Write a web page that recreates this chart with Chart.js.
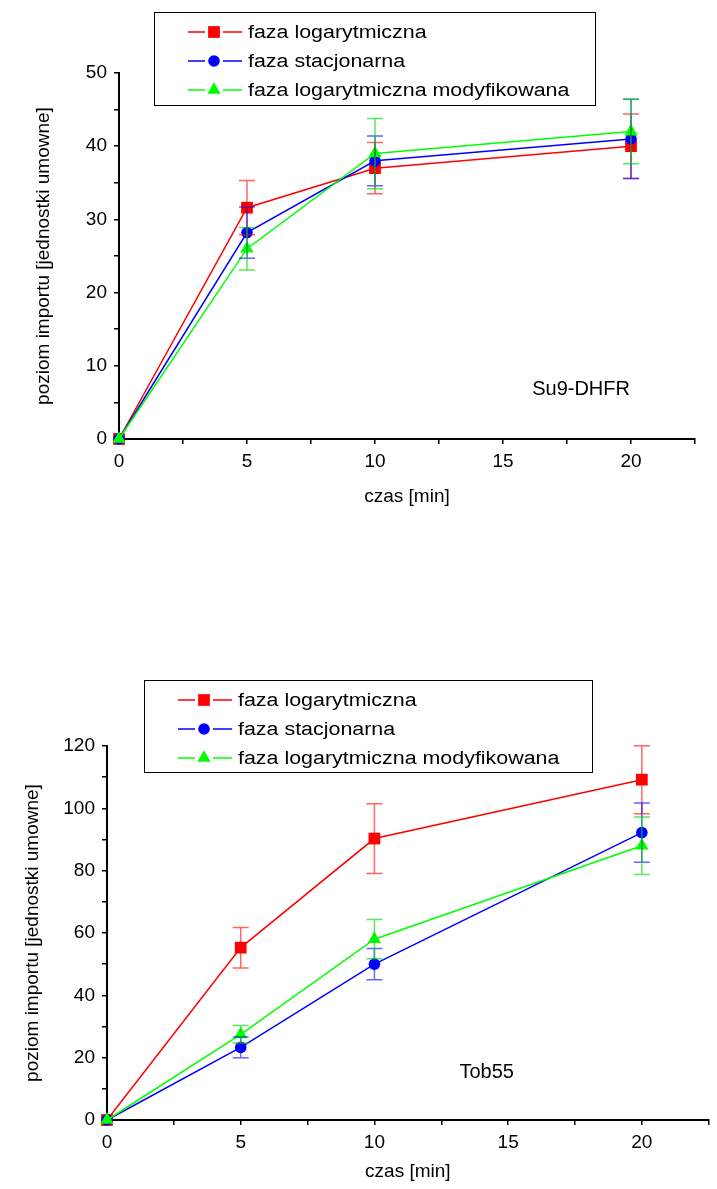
<!DOCTYPE html>
<html><head><meta charset="utf-8">
<script src="https://cdn.jsdelivr.net/npm/chart.js@4"></script>
<style>
html,body{margin:0;padding:0;background:#fff;width:717px;height:1189px;overflow:hidden}
.wrap{position:absolute;left:0;width:717px}
#w1{top:0;height:520px}
#w2{top:600px;height:589px}
canvas{display:block}
</style></head><body>
<div class="wrap" id="w1"><canvas id="c1" width="717" height="520"></canvas></div>
<div class="wrap" id="w2"><canvas id="c2" width="717" height="589"></canvas></div>
<script>
// ---- data ----
const times = [0, 5, 10, 20];
const seriesNames = ['faza logarytmiczna', 'faza stacjonarna', 'faza logarytmiczna modyfikowana'];

// Su9-DHFR
const su9Log      = [0, 31.6, 37, 40];
const su9LogErr   = [0, 3.7, 3.5, 4.4];
const su9Stat     = [0, 28.2, 38, 41];
const su9StatErr  = [0, 3.5, 3.4, 5.4];
const su9Mod      = [0, 26, 39, 42];
const su9ModErr   = [0, 2.9, 4.8, 4.4];

// Tob55
const tobLog      = [0, 55.3, 90.3, 109.2];
const tobLogErr   = [0, 6.5, 11.2, 10.9];
const tobStat     = [0, 23.3, 50, 92.2];
const tobStatErr  = [0, 3.3, 5, 9.5];
const tobMod      = [0, 27.5, 58, 88];
const tobModErr   = [0, 2.8, 6.3, 9.2];

const xTitle = 'czas [min]';
const yTitle = 'poziom importu [jednostki umowne]';
const label1 = 'Su9-DHFR';
const label2 = 'Tob55';

// ---- styles ----
const FONT = 'Liberation Sans, Arial, Helvetica, sans-serif';
const colors = ['#ff0000', '#0000ff', '#00ff00'];
const errColors = ['rgba(255,0,0,0.6)', 'rgba(0,0,255,0.6)', 'rgba(0,220,0,0.65)'];
const styles = ['rect', 'circle', 'triangle'];
const radii = [8.3, 5.8, 7.7];

function drawMarker(ctx, style, x, y, r, color) {
  ctx.fillStyle = color;
  ctx.beginPath();
  if (style === 'rect') {
    const s = Math.SQRT1_2 * r;
    ctx.rect(x - s, y - s, 2 * s, 2 * s);
  } else if (style === 'circle') {
    ctx.arc(x, y, r, 0, Math.PI * 2);
  } else {
    for (let k = 0; k < 3; k++) {
      const a = -Math.PI / 2 + k * 2 * Math.PI / 3;
      const px = x + r * Math.cos(a), py = y + r * Math.sin(a);
      if (k === 0) ctx.moveTo(px, py); else ctx.lineTo(px, py);
    }
    ctx.closePath();
  }
  ctx.fill();
}

const errorBarPlugin = {
  id: 'errBars',
  afterDatasetsDraw(chart) {
    const ctx = chart.ctx;
    const xs = chart.scales.x, ys = chart.scales.y;
    ctx.save();
    chart.data.datasets.forEach((ds, i) => {
      ctx.strokeStyle = errColors[i];
      ctx.lineWidth = 1.5;
      ds.data.forEach((p, j) => {
        const e = ds.errors[j];
        if (!e) return;
        const x = xs.getPixelForValue(p.x);
        const yt = ys.getPixelForValue(p.y + e);
        const yb = ys.getPixelForValue(p.y - e);
        ctx.beginPath();
        ctx.moveTo(x, yt); ctx.lineTo(x, yb);
        ctx.moveTo(x - 8, yt); ctx.lineTo(x + 8, yt);
        ctx.moveTo(x - 8, yb); ctx.lineTo(x + 8, yb);
        ctx.stroke();
      });
    });
    ctx.restore();
  }
};

const boxLegendPlugin = {
  id: 'boxLegend',
  afterDraw(chart, args, o) {
    const ctx = chart.ctx;
    ctx.save();
    ctx.strokeStyle = '#000';
    ctx.lineWidth = 1;
    ctx.strokeRect(o.bx + 0.5, o.by + 0.5, o.bw, o.bh);
    chart.data.datasets.forEach((ds, i) => {
      const y = o.rows[i];
      ctx.strokeStyle = colors[i];
      ctx.lineWidth = 1.3;
      ctx.beginPath();
      ctx.moveTo(o.lx0, y); ctx.lineTo(o.mx - 9, y);
      ctx.moveTo(o.mx + 9, y); ctx.lineTo(o.lx1, y);
      ctx.stroke();
      drawMarker(ctx, styles[i], o.mx, y, radii[i], colors[i]);
      ctx.save();
      ctx.fillStyle = '#000';
      ctx.font = '18px ' + FONT;
      ctx.textBaseline = 'middle';
      ctx.translate(o.tx, y + 1);
      ctx.scale(o.sx, 1);
      ctx.fillText(ds.label, 0, 0);
      ctx.restore();
    });
    ctx.restore();
  }
};

const notePlugin = {
  id: 'note',
  afterDraw(chart, args, o) {
    const ctx = chart.ctx;
    ctx.save();
    ctx.fillStyle = '#000';
    ctx.font = '20px ' + FONT;
    ctx.textAlign = 'center';
    ctx.textBaseline = 'middle';
    ctx.fillText(o.text, chart.scales.x.getPixelForValue(o.x), chart.scales.y.getPixelForValue(o.y));
    ctx.restore();
  }
};

function makeChart(id, cfg) {
  const sets = cfg.series.map((s, i) => ({
    label: seriesNames[i],
    data: times.map((t, j) => ({ x: t, y: s[0][j] })),
    errors: s[1],
    showLine: true,
    borderColor: colors[i],
    backgroundColor: colors[i],
    borderWidth: 1.5,
    pointStyle: styles[i],
    pointRadius: radii[i],
    pointHoverRadius: radii[i],
    pointBorderWidth: 0,
    clip: false,
    order: 3 - i
  }));
  const axisFont = { size: 19, family: FONT };
  return new Chart(document.getElementById(id), {
    type: 'scatter',
    data: { datasets: sets },
    plugins: [errorBarPlugin, boxLegendPlugin, notePlugin],
    options: {
      responsive: false,
      animation: false,
      events: [],
      layout: { padding: cfg.padding },
      plugins: {
        legend: { display: false },
        tooltip: { enabled: false },
        boxLegend: cfg.legend,
        note: cfg.note
      },
      scales: {
        x: {
          type: 'linear', min: 0, max: 22.5,
          ticks: {
            stepSize: 2.5, autoSkip: false, maxRotation: 0, color: '#000', font: axisFont, padding: 6,
            callback: v => (v % 5 === 0 ? String(v) : '')
          },
          grid: { drawOnChartArea: false, drawTicks: true, tickLength: 5, color: '#000', lineWidth: 1.5 },
          border: { display: true, color: '#000', width: 2 },
          title: { display: true, text: xTitle, color: '#000', font: axisFont, padding: { top: 0, bottom: cfg.xTitlePad } },
          afterFit: s => { s.height = cfg.xHeight; }
        },
        y: {
          min: 0, max: cfg.yMax,
          ticks: {
            stepSize: cfg.yStep / 2, autoSkip: false, color: '#000', font: axisFont, padding: 7,
            callback: v => (v % cfg.yStep === 0 ? String(v) : '')
          },
          grid: { drawOnChartArea: false, drawTicks: true, tickLength: 5, color: '#000', lineWidth: 1.5 },
          border: { display: true, color: '#000', width: 2 },
          title: { display: true, text: yTitle, color: '#000', font: axisFont, padding: { top: 0, bottom: 0 } },
          afterFit: s => { s.width = cfg.yWidth; }
        }
      }
    }
  });
}

makeChart('c1', {
  series: [[su9Log, su9LogErr], [su9Stat, su9StatErr], [su9Mod, su9ModErr]],
  yMax: 50, yStep: 10,
  padding: { left: 32, right: 22, top: 73, bottom: 11 },
  yWidth: 87, xHeight: 70, xTitlePad: 1,
  legend: { bx: 154, by: 12, bw: 441, bh: 93, rows: [32, 61, 90], lx0: 188, lx1: 242, mx: 214, tx: 248, sx: 1.19 },
  note: { text: label1, x: 18.05, y: 6.7 }
});

makeChart('c2', {
  series: [[tobLog, tobLogErr], [tobStat, tobStatErr], [tobMod, tobModErr]],
  yMax: 120, yStep: 20,
  padding: { left: 21, right: 0, top: 146, bottom: 0 },
  yWidth: 86, xHeight: 69, xTitlePad: 6,
  legend: { bx: 144, by: 80, bw: 448, bh: 92, rows: [100, 129, 158], lx0: 178, lx1: 232, mx: 204, tx: 238, sx: 1.19 },
  note: { text: label2, x: 14.2, y: 15.4 }
});
</script>
</body></html>
